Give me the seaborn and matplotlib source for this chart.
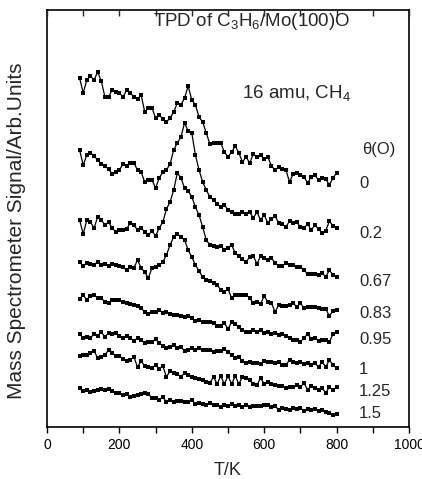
import numpy as np
import pandas as pd
import matplotlib
matplotlib.use("Agg")
import matplotlib.pyplot as plt
import seaborn as sns

# Temperature grid (K)
temperature = list(range(90, 810, 10))

# Coverage labels
coverages = ["0", "0.2", "0.67", "0.83", "0.95", "1", "1.25", "1.5"]

# Traces (depth readings, larger = lower on the page)
trace_0 = [78, 93, 80, 76, 80, 72, 81, 97, 97, 90, 92, 93, 97, 90, 93, 97, 99, 95, 112, 108,
           108, 118, 115, 119, 122, 118, 112, 103, 105, 98, 86, 100, 105, 117, 122, 133, 144, 143, 143, 143,
           152, 157, 152, 146, 153, 162, 157, 163, 154, 157, 155, 159, 157, 166, 170, 167, 169, 170, 182, 174,
           173, 175, 177, 183, 177, 175, 180, 178, 179, 185, 178, 173]
trace_02 = [150, 165, 155, 153, 156, 160, 164, 166, 169, 174, 172, 170, 164, 166, 163, 163, 170, 172, 182, 180,
            180, 188, 178, 172, 170, 164, 150, 143, 137, 123, 131, 133, 155, 170, 182, 190, 197, 200, 204, 207,
            205, 210, 212, 214, 214, 212, 214, 212, 218, 212, 220, 215, 223, 219, 216, 223, 224, 227, 221, 223,
            222, 227, 228, 224, 230, 225, 229, 233, 231, 221, 226, 228]
trace_067 = [220, 234, 220, 222, 228, 217, 220, 225, 222, 228, 232, 230, 230, 229, 223, 225, 230, 228, 232, 235,
             231, 236, 228, 222, 209, 202, 190, 173, 178, 188, 191, 197, 207, 215, 227, 240, 245, 246, 247, 246,
             250, 248, 245, 253, 256, 259, 262, 257, 256, 264, 256, 258, 260, 258, 263, 266, 266, 263, 265, 265,
             267, 267, 270, 274, 274, 274, 275, 273, 277, 270, 275, 277]
trace_083 = [262, 266, 263, 264, 265, 262, 265, 264, 266, 264, 265, 266, 267, 270, 267, 268, 260, 268, 272, 278,
             268, 267, 265, 262, 255, 245, 237, 234, 237, 240, 250, 257, 265, 271, 277, 280, 281, 283, 285, 290,
             292, 289, 298, 295, 295, 295, 295, 298, 303, 302, 304, 296, 302, 303, 312, 305, 306, 306, 305, 303,
             307, 303, 308, 307, 307, 307, 308, 309, 309, 316, 311, 310]
trace_095 = [299, 295, 300, 296, 295, 298, 298, 302, 303, 300, 300, 300, 302, 303, 304, 305, 306, 308, 312, 314,
             312, 312, 310, 313, 312, 314, 315, 315, 316, 317, 316, 318, 321, 320, 322, 322, 322, 323, 326, 326,
             323, 329, 322, 324, 327, 330, 332, 332, 330, 332, 330, 333, 332, 334, 333, 335, 334, 336, 338, 340,
             340, 342, 338, 334, 339, 338, 341, 340, 340, 342, 334, 332]
trace_1 = [334, 338, 337, 338, 334, 336, 332, 337, 333, 334, 333, 336, 338, 336, 338, 341, 338, 340, 343, 342,
           342, 339, 343, 346, 348, 347, 345, 348, 347, 351, 350, 348, 350, 348, 350, 350, 350, 352, 351, 351,
           349, 352, 355, 358, 357, 361, 363, 362, 363, 363, 364, 361, 362, 362, 363, 362, 365, 365, 360, 362,
           363, 362, 364, 363, 365, 363, 367, 362, 367, 360, 365, 368]
trace_125 = [356, 355, 355, 353, 351, 358, 357, 355, 350, 353, 356, 356, 359, 361, 360, 357, 367, 361, 366, 367,
             368, 365, 369, 366, 377, 371, 373, 374, 377, 373, 375, 377, 378, 379, 380, 382, 383, 377, 384, 376,
             384, 376, 384, 376, 384, 377, 378, 380, 384, 385, 378, 384, 382, 384, 385, 386, 386, 388, 387, 387,
             385, 387, 383, 390, 386, 388, 390, 388, 393, 387, 390, 387]
trace_15 = [388, 391, 390, 392, 391, 390, 389, 390, 389, 391, 393, 393, 395, 394, 397, 396, 395, 394, 393, 394,
            398, 398, 400, 397, 402, 400, 402, 401, 401, 402, 402, 400, 404, 403, 404, 405, 403, 405, 405, 407,
            405, 406, 404, 406, 405, 407, 405, 407, 406, 406, 406, 405, 405, 407, 406, 410, 408, 409, 410, 408,
            409, 408, 411, 409, 410, 409, 411, 410, 412, 413, 415, 414]

traces = [trace_0, trace_02, trace_067, trace_083, trace_095, trace_1, trace_125, trace_15]

rows = []
for cov, tr in zip(coverages, traces):
    sig = 430 - np.array(tr, dtype=float)  # arbitrary units, up = larger
    for t, s in zip(temperature, sig):
        rows.append({"T": t, "signal": s, "coverage": cov})
df = pd.DataFrame(rows)

sns.set_theme(style="ticks")
plt.rcParams["font.family"] = ["Liberation Sans", "DejaVu Sans"]
plt.rcParams["mathtext.fontset"] = "custom"
plt.rcParams["mathtext.rm"] = "Liberation Sans"
plt.rcParams["mathtext.it"] = "Liberation Sans:italic"

W, H = 422, 479
fig = plt.figure(figsize=(W / 100, H / 100), dpi=100)
ax = fig.add_axes([47 / W, 1 - 427 / H, 362 / W, 417 / H])

sns.lineplot(data=df, x="T", y="signal", units="coverage", estimator=None,
             color="black", lw=0.9, marker="s", markersize=2.3, markeredgewidth=0,
             ax=ax, legend=False)

ax.set_xlim(0, 1000)
ax.set_ylim(3, 420)
ax.set_yticks([])
ax.set_xticks(range(0, 1001, 200))
ax.set_xticks(range(100, 1000, 200), minor=True)
ax.tick_params(axis="x", which="both", direction="out", length=4, width=1, labelsize=10,
               colors="black", pad=4)
ax.set_xlabel("T/K", fontsize=13, labelpad=7)
ax.set_ylabel("")
for sp in ax.spines.values():
    sp.set_visible(True)
    sp.set_linewidth(1.2)
    sp.set_color("black")

ax2 = ax.twiny()
ax2.set_xlim(0, 1000)
ax2.set_xticks(range(0, 1001, 100))
ax2.tick_params(axis="x", which="both", direction="in", length=4, width=1, labeltop=False)
for sp in ax2.spines.values():
    sp.set_visible(False)

fig.text(17 / W, 1 - 231 / H, "Mass Spectrometer Signal/Arb.Units", rotation=90,
         ha="center", va="center", fontsize=15)

ax.text(153 / W, 1 - 21 / H, r"TPD of C$_3$H$_6$/Mo(100)O", transform=fig.transFigure,
        ha="left", va="center", fontsize=13.5)
ax.text(242 / W, 1 - 93 / H, r"16 amu, CH$_4$", transform=fig.transFigure,
        ha="left", va="center", fontsize=13.5)
ax.text(362 / W, 1 - 150 / H, "θ(O)", transform=fig.transFigure,
        ha="left", va="center", fontsize=12)

label_y = [183, 234, 281, 313, 340, 369, 392, 414]
for cov, yy in zip(coverages, label_y):
    ax.text(359 / W, 1 - yy / H, cov, transform=fig.transFigure,
            ha="left", va="center", fontsize=12)

fig.savefig("out.png", dpi=100)
